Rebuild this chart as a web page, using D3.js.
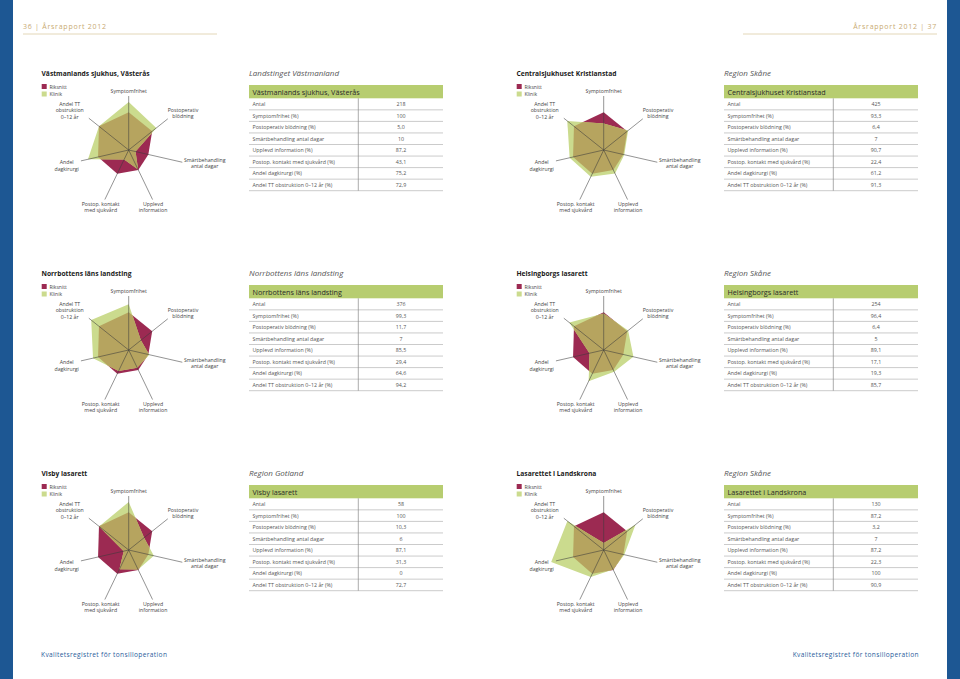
<!DOCTYPE html>
<html><head><meta charset="utf-8">
<script src="https://cdn.jsdelivr.net/npm/d3@7"></script>
<style>body{margin:0;background:#fff} svg{display:block;font-family:"Open Sans","Noto Sans",sans-serif}</style>
</head><body><svg id="c" width="960" height="679"></svg>
<script>
// ---------- DATA ----------
const axes = ["Symptomfrihet", "Postoperativ blödning", "Smärtbehandling antal dagar", "Upplevd information", "Postop. kontakt med sjukvård", "Andel dagkirurgi", "Andel TT obstruktion 0–12 år"];
const axisLabelLines = [["Symptomfrihet"], ["Postoperativ", "blödning"], ["Smärtbehandling", "antal dagar"], ["Upplevd", "information"], ["Postop. kontakt", "med sjukvård"], ["Andel", "dagkirurgi"], ["Andel TT", "obstruktion", "0–12 år"]];
const tableRows = ["Antal", "Symptomfrihet (%)", "Postoperativ blödning (%)", "Smärtbehandling antal dagar", "Upplevd information (%)", "Postop. kontakt med sjukvård (%)", "Andel dagkirurgi (%)", "Andel TT obstruktion 0–12 år (%)"];
const legendLabels = ["Riksnitt", "Klinik"];

const clinics = ["Västmanlands sjukhus, Västerås", "Centralsjukhuset Kristianstad", "Norrbottens läns landsting", "Helsingborgs lasarett", "Visby lasarett", "Lasarettet i Landskrona"];
const regions = ["Landstinget Västmanland", "Region Skåne", "Norrbottens läns landsting", "Region Skåne", "Region Gotland", "Region Skåne"];
const antal = [218, 425, 376, 254, 58, 130];
const symptomfrihet = [100, 93.3, 99.3, 96.4, 100, 87.2];
const blodning = [5.0, 6.4, 11.7, 6.4, 10.3, 3.2];
const smartDagar = [10, 7, 7, 5, 6, 7];
const information = [87.2, 90.7, 85.5, 89.1, 87.1, 87.2];
const kontakt = [43.1, 22.4, 29.4, 17.1, 31.3, 22.3];
const dagkirurgi = [75.2, 61.2, 64.6, 19.3, 0, 100];
const ttObstruktion = [72.9, 91.3, 94.2, 85.7, 72.7, 90.9];
// national average (estimated from the radar shapes)
const riksnitt = [96.8, 6.8, 7.2, 87.5, 26, 54, 73];
// per-axis scale domains (value at centre, value at outer radius)
const axisDomains = [[85, 100], [17, 0.7], [11.5, 1.26], [70, 108], [54.4, 2.8], [-10.5, 88], [-8, 94.3]];

// ---------- LAYOUT ----------
const W = 960, H = 679;
const col = { crimson: "#9c2a52", green: "#cbdb8e", olive: "#b6a45f", head: "#b7cd70", blue: "#1d5793", gold: "#c8aa73" };
const colX = [0, 475], rowY = [0, 200, 400];
const R = 48;
const axisLen = [54, 50, 55, 55, 55, 49, 51];
const labelOffsets = [[0, -58.5], [54.3, -37], [76, 13], [24.3, 57], [-28, 57], [-62, 15.5], [-59, -39.5]];

const svg = d3.select("#c");

// blue side bars
svg.append("rect").attr("x", 0).attr("y", 0).attr("width", 13).attr("height", H).attr("fill", col.blue);
svg.append("rect").attr("x", 947).attr("y", 0).attr("width", 13).attr("height", H).attr("fill", col.blue);

// header
svg.append("text").attr("x", 23).attr("y", 28.5).attr("font-size", 7).attr("letter-spacing", 0.75).attr("fill", col.gold).text("36 | Årsrapport 2012");
svg.append("text").attr("x", 937).attr("y", 28.5).attr("text-anchor", "end").attr("font-size", 7).attr("letter-spacing", 0.75).attr("fill", col.gold).text("Årsrapport 2012 | 37");
svg.append("line").attr("x1", 23).attr("x2", 217).attr("y1", 34).attr("y2", 34).attr("stroke", "#dccda6").attr("stroke-width", 0.8);
svg.append("line").attr("x1", 743).attr("x2", 937).attr("y1", 34).attr("y2", 34).attr("stroke", "#dccda6").attr("stroke-width", 0.8);

// footer
svg.append("text").attr("x", 41).attr("y", 657).attr("font-size", 6.6).attr("letter-spacing", 0.35).attr("fill", "#2a5c9b").text("Kvalitetsregistret för tonsilloperation");
svg.append("text").attr("x", 919).attr("y", 657).attr("text-anchor", "end").attr("font-size", 6.6).attr("letter-spacing", 0.35).attr("fill", "#2a5c9b").text("Kvalitetsregistret för tonsilloperation");

const scales = axisDomains.map(d => d3.scaleLinear().domain(d).range([0, R]));
const ang = j => j * 2 * Math.PI / axes.length;
const radial = d3.lineRadial().angle((d, j) => ang(j)).radius((d, j) => scales[j](d)).curve(d3.curveLinearClosed);

const fmt = (v, row) => {
  if (row === 0 || row === 3) return String(v);
  if (v === 0 || v === 100) return String(v);
  return v.toFixed(1).replace(".", ",");
};

clinics.forEach((name, i) => {
  const ox = colX[i % 2], oy = rowY[Math.floor(i / 2)];
  const g = svg.append("g").attr("transform", `translate(${ox},${oy})`);
  const klinik = [symptomfrihet[i], blodning[i], smartDagar[i], information[i], kontakt[i], dagkirurgi[i], ttObstruktion[i]];

  // chart title
  g.append("text").attr("x", 41.5).attr("y", 76).attr("font-size", 6.7).attr("font-weight", "bold").attr("fill", "#1a1a1a").text(name);
  // legend
  legendLabels.forEach((l, k) => {
    g.append("rect").attr("x", 41.7).attr("y", 84 + k * 7.5).attr("width", 5).attr("height", 5).attr("fill", k === 0 ? col.crimson : col.green);
    g.append("text").attr("x", 49.5).attr("y", 88.6 + k * 7.5).attr("font-size", 5).attr("fill", "#444").text(l);
  });

  // radar
  const rc = g.append("g").attr("transform", "translate(128.7,150)");
  const cid = "clipR" + i;
  rc.append("clipPath").attr("id", cid).append("path").attr("d", radial(riksnitt));
  rc.append("path").attr("d", radial(riksnitt)).attr("fill", col.crimson);
  rc.append("path").attr("d", radial(klinik)).attr("fill", col.green);
  rc.append("path").attr("d", radial(klinik)).attr("fill", col.olive).attr("clip-path", `url(#${cid})`);
  axes.forEach((a, j) => {
    const t = ang(j);
    rc.append("line").attr("x1", 0).attr("y1", 0)
      .attr("x2", axisLen[j] * Math.sin(t)).attr("y2", -axisLen[j] * Math.cos(t))
      .attr("stroke", "#3a3a3a").attr("stroke-width", 0.55);
    const lines = axisLabelLines[j];
    const lh = 6.4;
    const [dx, dy] = labelOffsets[j];
    const tx = rc.append("text").attr("text-anchor", "middle").attr("font-size", 5.2).attr("fill", "#444");
    lines.forEach((ln, k) => {
      tx.append("tspan").attr("x", dx).attr("y", dy + 1.8 + (k - (lines.length - 1) / 2) * lh).text(ln);
    });
  });

  // region title
  g.append("text").attr("x", 249).attr("y", 76).attr("font-size", 8).attr("font-style", "italic").attr("fill", "#555").text(regions[i]);

  // table
  const tx0 = 249, tx1 = 443, hy0 = 85, hy1 = 98.3, rh = 11.55;
  g.append("rect").attr("x", tx0).attr("y", hy0).attr("width", tx1 - tx0).attr("height", hy1 - hy0).attr("fill", col.head);
  g.append("text").attr("x", tx0 + 3.5).attr("y", hy1 - 3.8).attr("font-size", 7.2).attr("fill", "#2a2a2a").text(name);
  const vals = [antal[i], ...klinik];
  const yRow = d3.scaleLinear().domain([0, tableRows.length]).range([hy1, hy1 + rh * tableRows.length]);
  tableRows.forEach((r, k) => {
    g.append("line").attr("x1", tx0).attr("x2", tx1).attr("y1", yRow(k + 1)).attr("y2", yRow(k + 1)).attr("stroke", "#b5b5b5").attr("stroke-width", 0.7);
    g.append("text").attr("x", tx0 + 3.5).attr("y", yRow(k + 0.5) + 1.9).attr("font-size", 5.3).attr("fill", "#555").text(r);
    g.append("text").attr("x", 401).attr("y", yRow(k + 0.5) + 1.9).attr("text-anchor", "middle").attr("font-size", 5.3).attr("fill", "#555").text(fmt(vals[k], k));
  });
  g.append("line").attr("x1", 358.3).attr("x2", 358.3).attr("y1", hy1).attr("y2", yRow(tableRows.length)).attr("stroke", "#8a8a8a").attr("stroke-width", 0.7);
});
</script></body></html>
